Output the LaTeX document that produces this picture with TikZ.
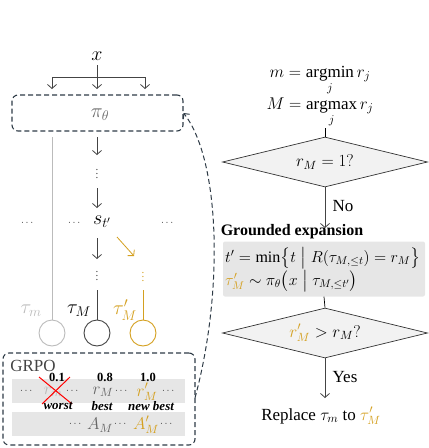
\RequirePackage{fix-cm}
\documentclass[tikz,border=0pt]{standalone}
\usepackage{amsmath}
\usepackage{fontspec}
\setmainfont{Liberation Serif}
\usetikzlibrary{arrows.meta,shapes.geometric}
\definecolor{gold}{HTML}{D4A020}
\definecolor{lgray}{HTML}{BBBBBB}
\definecolor{dgray}{HTML}{444444}
\definecolor{boxgray}{HTML}{E6E6E6}
\definecolor{dashc}{HTML}{2E3B46}
\tikzset{
  arr/.style={-{Straight Barb[length=4pt,width=9pt]},line width=0.8pt,draw=dgray},
  dashbox/.style={draw=dashc,dashed,dash pattern=on 5pt off 3pt,line width=1.1pt,rounded corners=6pt},
  decision/.style={diamond,draw=black!80,fill=gray!10,line width=0.7pt,aspect=4.1,minimum width=205pt,minimum height=50pt,inner sep=0pt},
  leaf/.style={circle,draw,line width=0.9pt,minimum size=26pt,inner sep=0pt},
  lbl/.style={font=\fontsize{16}{18}\selectfont,inner sep=0pt},
  big/.style={font=\fontsize{20}{22}\selectfont,inner sep=0pt},
  row/.style={font=\fontsize{17}{19}\selectfont,inner sep=0pt},
  vd/.style={font=\fontsize{11}{12}\selectfont,inner sep=0pt},
  dots/.style={font=\fontsize{10.5}{11}\selectfont,inner sep=0pt,black!75},
  txt/.style={font=\fontsize{17}{19}\selectfont},
  num/.style={font=\fontsize{12.5}{13}\selectfont\bfseries,inner sep=0pt},
  tag/.style={font=\fontsize{13}{14}\selectfont\bfseries\itshape,inner sep=0pt},
}
\begin{document}
\begin{tikzpicture}[x=1pt,y=-1pt]
\useasboundingbox (0,0) rectangle (429,448);
% left tree
\node[big] (x) at (97,56) {$x$};
\coordinate (xt) at (97,65);
\coordinate (xj) at (97,77);
\coordinate (xl) at (52,77);
\coordinate (xr) at (145,77);
\coordinate (al) at (52,89);
\coordinate (am) at (97,89);
\coordinate (ar) at (145,89);
\draw[line width=0.8pt,dgray] (xt) -- (xj);
\draw[line width=0.8pt,dgray] (xl) -- (xr);
\draw[arr] (xl) -- (al);
\draw[arr] (xj) -- (am);
\draw[arr] (xr) -- (ar);
\node[dashbox,minimum width=171pt,minimum height=36pt] (pi) at (97.5,113) {};
\node[big,gray!80!black] (pit) at (100,115) {$\pi_\theta$};
% circles
\node[leaf,draw=lgray] (cm) at (52,333) {};
\node[leaf,draw=dgray] (cM) at (97,333) {};
\node[leaf,draw=gold] (cMp) at (143,333) {};
\draw[lgray,line width=0.9pt] (52,137) -- (cm.north);
\coordinate (d1) at (97,137);
\coordinate (d1e) at (97,155);
\draw[arr] (d1) -- (d1e);
\node[vd,dgray] (v1) at (97,171) {$\vdots$};
\coordinate (d2) at (97,188);
\coordinate (d2e) at (97,208);
\draw[arr] (d2) -- (d2e);
\node[big] (s) at (102,222) {$s_{t'}$};
\node[dots] (e1) at (28,223) {$\cdots$};
\node[dots] (e2) at (75,223) {$\cdots$};
\node[dots] (e3) at (168,223) {$\cdots$};
\coordinate (d3) at (97,238);
\coordinate (d3e) at (97,259);
\draw[arr] (d3) -- (d3e);
\node[vd,dgray] (v2) at (97,273) {$\vdots$};
\coordinate (o1) at (117,237);
\coordinate (o1e) at (134,256);
\draw[arr,draw=gold] (o1) -- (o1e);
\node[vd,gold] (v3) at (143,274) {$\vdots$};
\draw[dgray,line width=0.9pt] (97,290) -- (cM.north);
\draw[gold,line width=0.9pt] (143,290) -- (cMp.north);
\node[big,lgray] (tm) at (31,311) {$\tau_m$};
\node[big] (tM) at (79,311) {$\tau_M$};
\node[big,gold] (tMp) at (125,310) {$\tau'_M$};
% GRPO box
\node[dashbox,minimum width=192pt,minimum height=92pt] (grpo) at (99,399) {};
\node[font=\fontsize{17}{18}\selectfont,dgray,inner sep=0pt] (gt) at (33,366) {GRPO};
\fill[boxgray] (12,379) rectangle (185,403);
\fill[boxgray] (12,412) rectangle (185,436);
\node[dots] (r1) at (27,391) {$\cdots$};
\node[row,lgray] (rm) at (53,392) {$r_m$};
\node[dots] (r2) at (73,391) {$\cdots$};
\node[row,gray!80!black] (rM) at (103,392) {$r_M$};
\node[dots] (r3) at (122,391) {$\cdots$};
\node[row,gold] (rMp) at (147,392) {$r'_M$};
\node[dots] (r4) at (169,391) {$\cdots$};
\draw[red,line width=1pt] (39,377) -- (72,404);
\draw[red,line width=1pt] (70,377) -- (42,404);
\node[num] (n1) at (57,377) {0.1};
\node[num] (n2) at (105,377) {0.8};
\node[num] (n3) at (148,377) {1.0};
\node[tag] (w1) at (58,406) {worst};
\node[tag] (w2) at (102,406) {best};
\node[tag] (w3) at (151,406) {new best};
\node[dots] (a1) at (76,424) {$\cdots$};
\node[row,gray!80!black] (AM) at (100,425) {$A_M$};
\node[dots] (a2) at (121,424) {$\cdots$};
\node[row,gold] (AMp) at (146,425) {$A'_M$};
\node[dots] (a3) at (167,424) {$\cdots$};
% dashed feedback curve
\coordinate (cs) at (195,398);
\draw[dashc,dashed,dash pattern=on 5pt off 3pt,line width=1pt,-{Straight Barb[length=4pt,width=8pt]}]
  (cs) .. controls (224,290) and (220,160) .. (pi.east);
% right flow
\node[font=\fontsize{17}{19}\selectfont,anchor=base] (eqm) at (320,77) {$m=\mathop{\mathrm{argmin}}\limits_j r_j$};
\node[font=\fontsize{17}{19}\selectfont,anchor=base] (eqM) at (320,109) {$M=\mathop{\mathrm{argmax}}\limits_j r_j$};
\node[decision] (d1n) at (325,162) {};
\node[font=\fontsize{17}{19}\selectfont] at (d1n) {$r_M=1?$};
\coordinate (eqb) at (325,128);
\draw[line width=0.7pt] (eqb) -- (d1n.north);
\coordinate (noe) at (325,228);
\draw[arr] (d1n.south) -- (noe);
\node[txt] (no) at (343,206) {No};
\node[font=\fontsize{16}{18}\selectfont\bfseries,inner sep=0pt] (ge) at (292,232) {Grounded expansion};
\node[fill=boxgray,rounded corners=2pt,minimum width=202pt,minimum height=55pt] (gbox) at (324,269) {};
\node[lbl,anchor=west] (l1) at (225,258) {$t'=\min\bigl\{t\bigm|R(\tau_{M,\le t})=r_M\bigr\}$};
\node[lbl,anchor=west] (l2) at (225,281) {$\color{gold}\tau'_M\color{black}\sim\pi_\theta\bigl(x\bigm|\tau_{M,\le t'}\bigr)$};
\node[decision] (d2n) at (325,333) {};
\node[font=\fontsize{17}{19}\selectfont] at (d2n) {$\color{gold}r'_M\color{black}>r_M?$};
\draw[line width=0.7pt] (gbox.south) -- (d2n.north);
\coordinate (yese) at (325,398);
\draw[arr] (d2n.south) -- (yese);
\node[txt] (yes) at (345,377) {Yes};
\node[txt] (rep) at (321,416) {Replace $\tau_m$ to $\color{gold}\tau'_M$};
\end{tikzpicture}
\end{document}
